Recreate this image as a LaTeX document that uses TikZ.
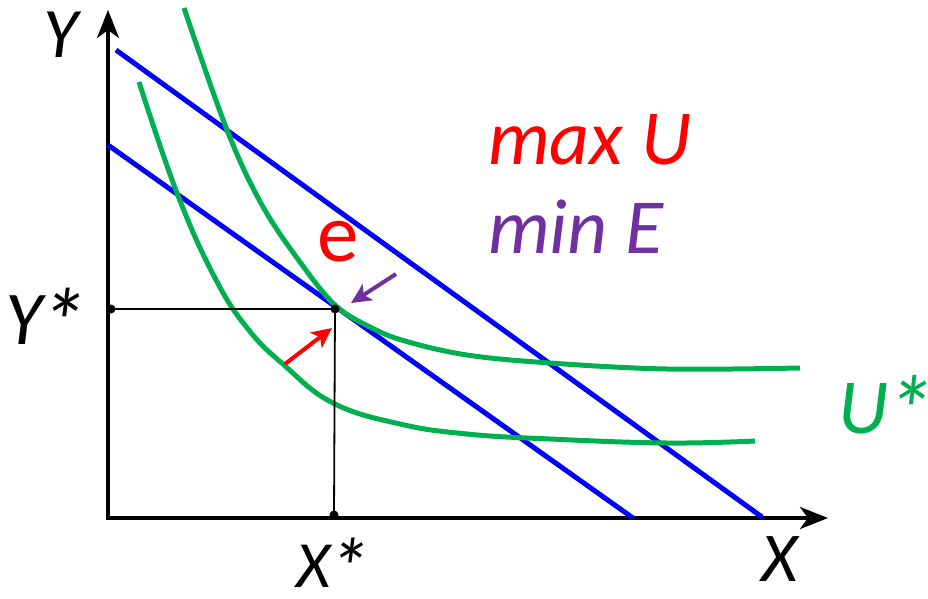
\documentclass[tikz,border=0pt]{standalone}
\usepackage{fontspec}
\usepackage{graphicx}
\setmainfont{Carlito}
\usetikzlibrary{arrows.meta}
\definecolor{curvegreen}{RGB}{0,176,80}
\definecolor{linepurple}{RGB}{112,48,160}
\newcommand{\bigast}{\kern-0.04em\raisebox{-0.15em}{\scalebox{1.25}{*}}}

\begin{document}
\begin{tikzpicture}[x=1pt,y=-1pt,
    axis/.style={line width=4pt, -{Stealth[length=28pt,width=22pt,inset=8pt]}},
    budget/.style={blue, line width=5pt},
    indiff/.style={curvegreen, line width=5pt},
    guide/.style={black, line width=1.8pt},
    pointer/.style={line width=4pt, -{Stealth[length=20pt,width=19pt,inset=5pt]}},
    lbl/.style={inner sep=0pt, anchor=base, font=\fontsize{70}{70}\selectfont\itshape}]
    \useasboundingbox (0,0) rectangle (928,599);
    % Define points
    \coordinate (origin) at (108,518);
    \coordinate (ytip) at (108,10);
    \coordinate (xtip) at (828,518);
    \coordinate (eq) at (335,309);
    \coordinate (ystar) at (111,309);
    \coordinate (xstar) at (334,515);
    % Draw axes
    \draw[axis] (origin) -- (ytip);
    \draw[axis] ([xshift=-2pt]origin) -- (xtip);
    % Draw budget lines
    \coordinate (b1) at (116,50);
    \coordinate (b2) at (762,517);
    \coordinate (b3) at (108,145);
    \coordinate (b4) at (633,518);
    \draw[budget] (b1) -- (b2);
    \draw[budget] (b3) -- (b4);
    % Draw indifference curves
    \draw[indiff] plot[smooth, tension=0.6] coordinates {(184,8) (227,130) (262,205) (300,262) (335,305) (370,327) (405,341) (467,355) (550,363) (667,369) (800,368)};
    \draw[indiff] plot[smooth, tension=0.7] coordinates {(139,82) (177,193) (215,278) (248,329) (284,365) (333,403) (400,424) (467,434) (550,439) (667,443) (755,441)};
    % Draw guide lines to the axes
    \draw[guide] (ystar) -- (eq) -- (xstar);
    \foreach \p in {ystar, eq, xstar}
        \fill (\p) circle (4.5pt);
    % Draw arrows
    \coordinate (r1) at (285,364);
    \coordinate (r2) at (332,328);
    \coordinate (p1) at (396,274);
    \coordinate (p2) at (351,303);
    \draw[pointer, red] (r1) -- (r2);
    \draw[pointer, linepurple] (p1) -- (p2);
    % Labels
    \node[lbl, font=\fontsize{71}{71}\selectfont\itshape] (ylab) at (61,58) {Y};
    \node[lbl, font=\fontsize{76}{76}\selectfont\itshape] (ystarlab) at (46,344) {Y\bigast};
    \node[lbl, font=\fontsize{66}{66}\selectfont\itshape] (xstarlab) at (333,587) {X\bigast};
    \node[lbl] (xlab) at (780,581) {X};
    \node[lbl, curvegreen, font=\fontsize{78}{78}\selectfont\itshape] (ustarlab) at (886,433) {U\bigast};
    \node[lbl, red, anchor=base west, font=\fontsize{78}{78}\selectfont\itshape] (maxlab) at (488,164) {max U};
    \node[lbl, linepurple, anchor=base west, font=\fontsize{78}{78}\selectfont\itshape] (minlab) at (488,253) {min E};
    \node[lbl, red, font=\fontsize{83}{83}\selectfont] (elab) at (338,261) {e};
\end{tikzpicture}
\end{document}
